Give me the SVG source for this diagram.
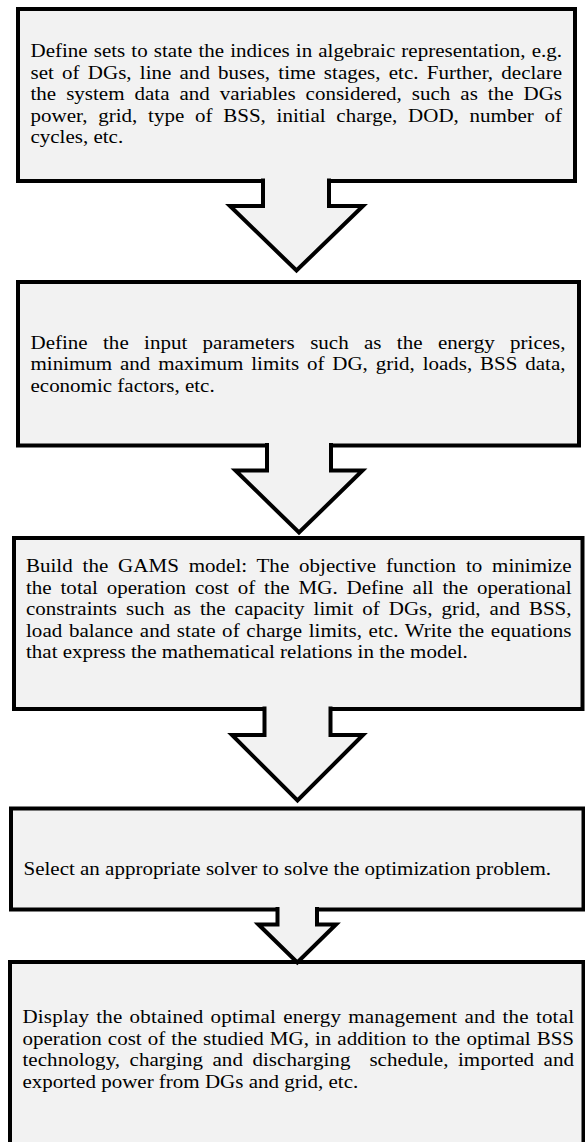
<svg xmlns="http://www.w3.org/2000/svg" width="585" height="1142" viewBox="0 0 585 1142">
<style>
.box{fill:#f2f2f2;stroke:#000;stroke-width:4}
.arr{fill:#f2f2f2;stroke:#000;stroke-width:4;stroke-linejoin:miter;stroke-miterlimit:10}
text{font-family:"Liberation Serif","Times New Roman",serif;font-size:19.2px;fill:#000}
</style>
<rect width="585" height="1142" fill="#fff"/>
<g id="node1">
<rect class="box" x="18" y="9" width="557" height="172"/>
<g transform="scale(1.09375,1)">
<text x="27.886" y="57.5" word-spacing="0.8" textLength="485.94" lengthAdjust="spacing">Define sets to state the indices in algebraic representation, e.g.</text>
<text x="27.886" y="79" word-spacing="2.68" textLength="485.94" lengthAdjust="spacing">set of DGs, line and buses, time stages, etc. Further, declare</text>
<text x="27.886" y="100.5" word-spacing="4.35" textLength="485.94" lengthAdjust="spacing">the system data and variables considered, such as the DGs</text>
<text x="27.886" y="122" word-spacing="4.94" textLength="485.94" lengthAdjust="spacing">power, grid, type of BSS, initial charge, DOD, number of</text>
<text x="27.886" y="143.5">cycles, etc.</text>
</g>
</g>
<g id="node2">
<rect class="box" x="18" y="282" width="561" height="163.5"/>
<g transform="scale(1.09375,1)">
<text x="27.886" y="349" word-spacing="9.23" textLength="489.14" lengthAdjust="spacing">Define the input parameters such as the energy prices,</text>
<text x="27.886" y="370.5" word-spacing="2.38" textLength="489.14" lengthAdjust="spacing">minimum and maximum limits of DG, grid, loads, BSS data,</text>
<text x="27.886" y="392">economic factors, etc.</text>
</g>
</g>
<g id="node3">
<rect class="box" x="14" y="538" width="568.5" height="171"/>
<g transform="scale(1.09375,1)">
<text x="23.771" y="572.5" word-spacing="4.21" textLength="498.74" lengthAdjust="spacing">Build the GAMS model: The objective function to minimize</text>
<text x="23.771" y="594" word-spacing="3.32" textLength="498.74" lengthAdjust="spacing">the total operation cost of the MG. Define all the operational</text>
<text x="23.771" y="615.5" word-spacing="3.42" textLength="498.74" lengthAdjust="spacing">constraints such as the capacity limit of DGs, grid, and BSS,</text>
<text x="23.771" y="637" word-spacing="1.24" textLength="498.74" lengthAdjust="spacing">load balance and state of charge limits, etc. Write the equations</text>
<text x="23.771" y="658.5">that express the mathematical relations in the model.</text>
</g>
</g>
<g id="node4">
<rect class="box" x="11" y="808.5" width="572.5" height="101"/>
<g transform="scale(1.09375,1)">
<text x="21.486" y="875">Select an appropriate solver to solve the optimization problem.</text>
</g>
</g>
<g id="node5">
<rect class="box" x="10" y="962" width="573.5" height="200"/>
<g transform="scale(1.09375,1)">
<text x="20.571" y="1023.5" word-spacing="1.56" textLength="504.23" lengthAdjust="spacing">Display the obtained optimal energy management and the total</text>
<text x="20.571" y="1045" word-spacing="0.75" textLength="504.23" lengthAdjust="spacing">operation cost of the studied MG, in addition to the optimal BSS</text>
<text x="20.571" y="1066.5" word-spacing="3.84" textLength="504.23" lengthAdjust="spacing" xml:space="preserve" style="white-space:pre">technology, charging and discharging  schedule, imported and</text>
<text x="20.571" y="1088">exported power from DGs and grid, etc.</text>
</g>
</g>
<g id="connectors">
<path class="arr" d="M263,178.5 V206 H230 L296.5,270.5 L363,206 H329 V178.5"/>
<path class="arr" d="M267,443 V470.5 H235.5 L299,532.5 L362.5,470.5 H331 V443"/>
<path class="arr" d="M264.5,706.5 V735 H232 L297.5,800.5 L363,735 H330.5 V706.5"/>
<path class="arr" d="M277.5,907 V924.5 H258.5 L297.3,962.5 L336,924.5 H317 V907"/>
</g>
</svg>
